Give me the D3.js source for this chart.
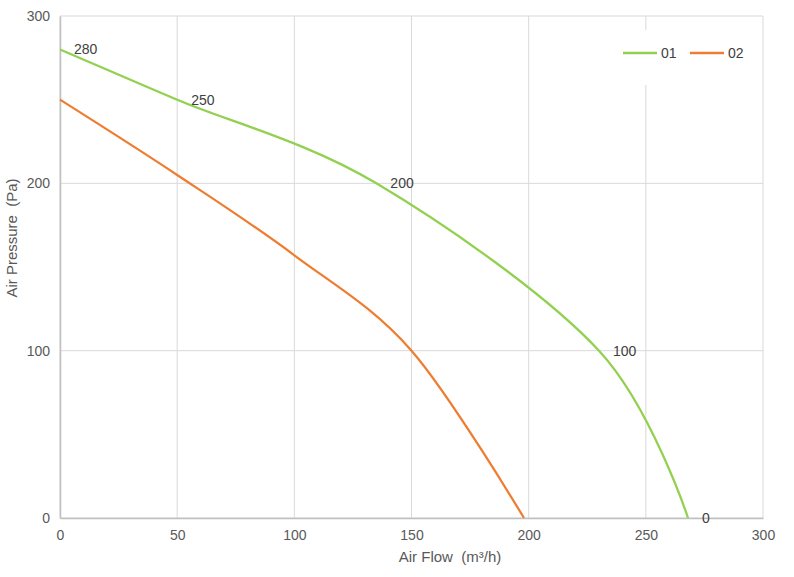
<!DOCTYPE html>
<html>
<head>
<meta charset="utf-8">
<script src="https://cdn.jsdelivr.net/npm/d3@7"></script>
<style>
  body { margin: 0; background: #fff; }
  svg { font-family: "Liberation Sans", Arial, sans-serif; }
  text { white-space: pre; }
</style>
</head>
<body>
<svg id="chart" width="794" height="577"></svg>
<script>
// Series data (air flow m3/h, air pressure Pa)
var flow01 = [0, 50, 135, 230, 268];
var pressure01 = [280, 250, 200, 100, 0];
var labels01 = ["280", "250", "200", "100", "0"];

var flow02 = [0, 50, 100, 150, 198];
var pressure02 = [250, 205, 157, 100, 0];

var seriesNames = ["01", "02"];
var seriesColors = ["#92d050", "#ed7d31"];

var ticksX = [0, 50, 100, 150, 200, 250, 300];
var ticksY = [0, 100, 200, 300];

// Layout
var m = { left: 60, right: 31, top: 16, bottom: 59 };
var W = 794, H = 577;

var svg = d3.select("#chart");

var x = d3.scaleLinear().domain([0, 300]).range([m.left, W - m.right]);
var y = d3.scaleLinear().domain([0, 300]).range([H - m.bottom, m.top]);

// Grid
var grid = svg.append("g").attr("class", "grid");
grid.selectAll("line.gx")
  .data(ticksX)
  .enter().append("line")
    .attr("class", "gx")
    .attr("x1", function(d) { return x(d); })
    .attr("x2", function(d) { return x(d); })
    .attr("y1", y(300))
    .attr("y2", y(0))
    .style("stroke", "#d9d9d9")
    .style("stroke-width", 1);

grid.selectAll("line.gy")
  .data(ticksY)
  .enter().append("line")
    .attr("class", "gy")
    .attr("x1", x(0))
    .attr("x2", x(300))
    .attr("y1", function(d) { return y(d); })
    .attr("y2", function(d) { return y(d); })
    .style("stroke", "#d9d9d9")
    .style("stroke-width", 1);

// Axes
var xAxis = svg.append("g")
  .attr("transform", "translate(0," + y(0) + ")")
  .call(d3.axisBottom(x).tickValues(ticksX).tickSize(0).tickPadding(12));
var yAxis = svg.append("g")
  .attr("transform", "translate(" + x(0) + ",0)")
  .call(d3.axisLeft(y).tickValues(ticksY).tickSize(0).tickPadding(10));

[xAxis, yAxis].forEach(function(a) {
  a.select(".domain").style("stroke", "#bfbfbf").style("stroke-width", 1.5);
  a.selectAll("text")
    .style("font-family", "Liberation Sans, Arial, sans-serif")
    .style("font-size", "14px")
    .style("fill", "#595959");
});

// Axis titles
svg.append("text")
  .attr("x", 450)
  .attr("y", 562)
  .attr("xml:space", "preserve")
  .style("text-anchor", "middle")
  .style("font-size", "15px")
  .style("fill", "#595959")
  .text("Air Flow  (m³/h)");

svg.append("text")
  .attr("transform", "translate(17,238) rotate(-90)")
  .attr("xml:space", "preserve")
  .style("text-anchor", "middle")
  .style("font-size", "15px")
  .style("fill", "#595959")
  .text("Air Pressure  (Pa)");

// Legend (white box interrupts the grid)
var legend = svg.append("g").attr("class", "legend");
legend.append("rect")
  .attr("x", 610).attr("y", 30)
  .attr("width", 145).attr("height", 55)
  .style("fill", "#fff");
seriesNames.forEach(function(name, i) {
  var lx = 623 + i * 67;
  legend.append("line")
    .attr("x1", lx).attr("x2", lx + 34)
    .attr("y1", 53).attr("y2", 53)
    .style("stroke", seriesColors[i])
    .style("stroke-width", 2.5);
  legend.append("text")
    .attr("x", lx + 38).attr("y", 58)
    .style("font-size", "14px")
    .style("fill", "#404040")
    .text(name);
});

// Lines
var line = d3.line()
  .x(function(d) { return x(d[0]); })
  .y(function(d) { return y(d[1]); })
  .curve(d3.curveCatmullRom.alpha(0));

var data01 = d3.zip(flow01, pressure01);
var data02 = d3.zip(flow02, pressure02);

svg.append("path")
  .datum(data02)
  .attr("d", line)
  .style("fill", "none")
  .style("stroke", seriesColors[1])
  .style("stroke-width", 2.25);

svg.append("path")
  .datum(data01)
  .attr("d", line)
  .style("fill", "none")
  .style("stroke", seriesColors[0])
  .style("stroke-width", 2.25);

// Point labels for series 01
svg.selectAll("text.plabel")
  .data(d3.zip(flow01, pressure01, labels01))
  .enter().append("text")
    .attr("class", "plabel")
    .attr("x", function(d) { return x(d[0]) + 14; })
    .attr("y", function(d) { return y(d[1]) + 5; })
    .style("font-size", "14px")
    .style("fill", "#404040")
    .text(function(d) { return d[2]; });
</script>
</body>
</html>
